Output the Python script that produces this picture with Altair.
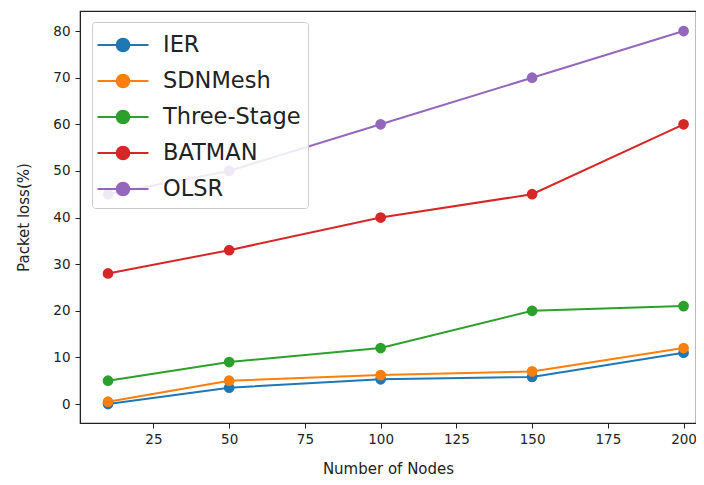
import altair as alt
import pandas as pd

nodes = [10, 50, 100, 150, 200]
series_names = ["IER", "SDNMesh", "Three-Stage", "BATMAN", "OLSR"]
ier = [0, 3.5, 5.3, 5.8, 11]
sdnmesh = [0.5, 5, 6.2, 7, 12]
three_stage = [5, 9, 12, 20, 21]
batman = [28, 33, 40, 45, 60]
olsr = [45, 50, 60, 70, 80]
colors = ["#1f77b4", "#ff7f0e", "#2ca02c", "#d62728", "#9467bd"]

rows = []
for name, vals in zip(series_names, [ier, sdnmesh, three_stage, batman, olsr]):
    for n, v in zip(nodes, vals):
        rows.append({"nodes": n, "loss": v, "series": name})
df = pd.DataFrame(rows)

font = "DejaVu Sans"
sym = "M-1.7,0H1.7M-0.42,0A0.42,0.42,0,1,1,0.42,0A0.42,0.42,0,1,1,-0.42,0Z"

chart = alt.Chart(df).mark_line(
    strokeWidth=2,
    point=alt.OverlayMarkDef(filled=True, size=115, opacity=1),
).encode(
    x=alt.X("nodes:Q", scale=alt.Scale(domain=[0.76, 204.1], nice=False, zero=False),
            axis=alt.Axis(values=[25, 50, 75, 100, 125, 150, 175, 200], title="Number of Nodes",
                          grid=False, tickSize=5, labelPadding=4, titlePadding=16)),
    y=alt.Y("loss:Q", scale=alt.Scale(domain=[-4.07, 84.3], nice=False, zero=False),
            axis=alt.Axis(values=[0, 10, 20, 30, 40, 50, 60, 70, 80], title="Packet loss(%)",
                          grid=False, tickSize=5, labelPadding=5, titlePadding=21)),
    color=alt.Color("series:N", sort=series_names,
                    scale=alt.Scale(domain=series_names, range=colors),
                    legend=alt.Legend(orient="none", legendX=12, legendY=11, title=None,
                                      symbolType=sym, symbolSize=900, symbolStrokeWidth=2,
                                      symbolOffset=8,
                                      labelFontSize=22.5, labelFont=font, labelColor="#222",
                                      rowPadding=8, labelOffset=24,
                                      padding=7, strokeColor="#cccccc", fillColor="rgba(255,255,255,0.85)",
                                      cornerRadius=3)),
).properties(
    width=616, height=412, autosize="none",
    padding={"left": 72, "top": 3, "right": 0, "bottom": 54},
).configure_axis(
    labelFont=font, titleFont=font, labelFontSize=13.5, titleFontSize=15,
    labelColor="#222", titleColor="#222", domainColor="#222", tickColor="#222",
    titleFontWeight="normal",
).configure_view(stroke="#222", strokeWidth=1.2)

chart.save("out.html", embed_options={"renderer": "svg", "actions": False})
